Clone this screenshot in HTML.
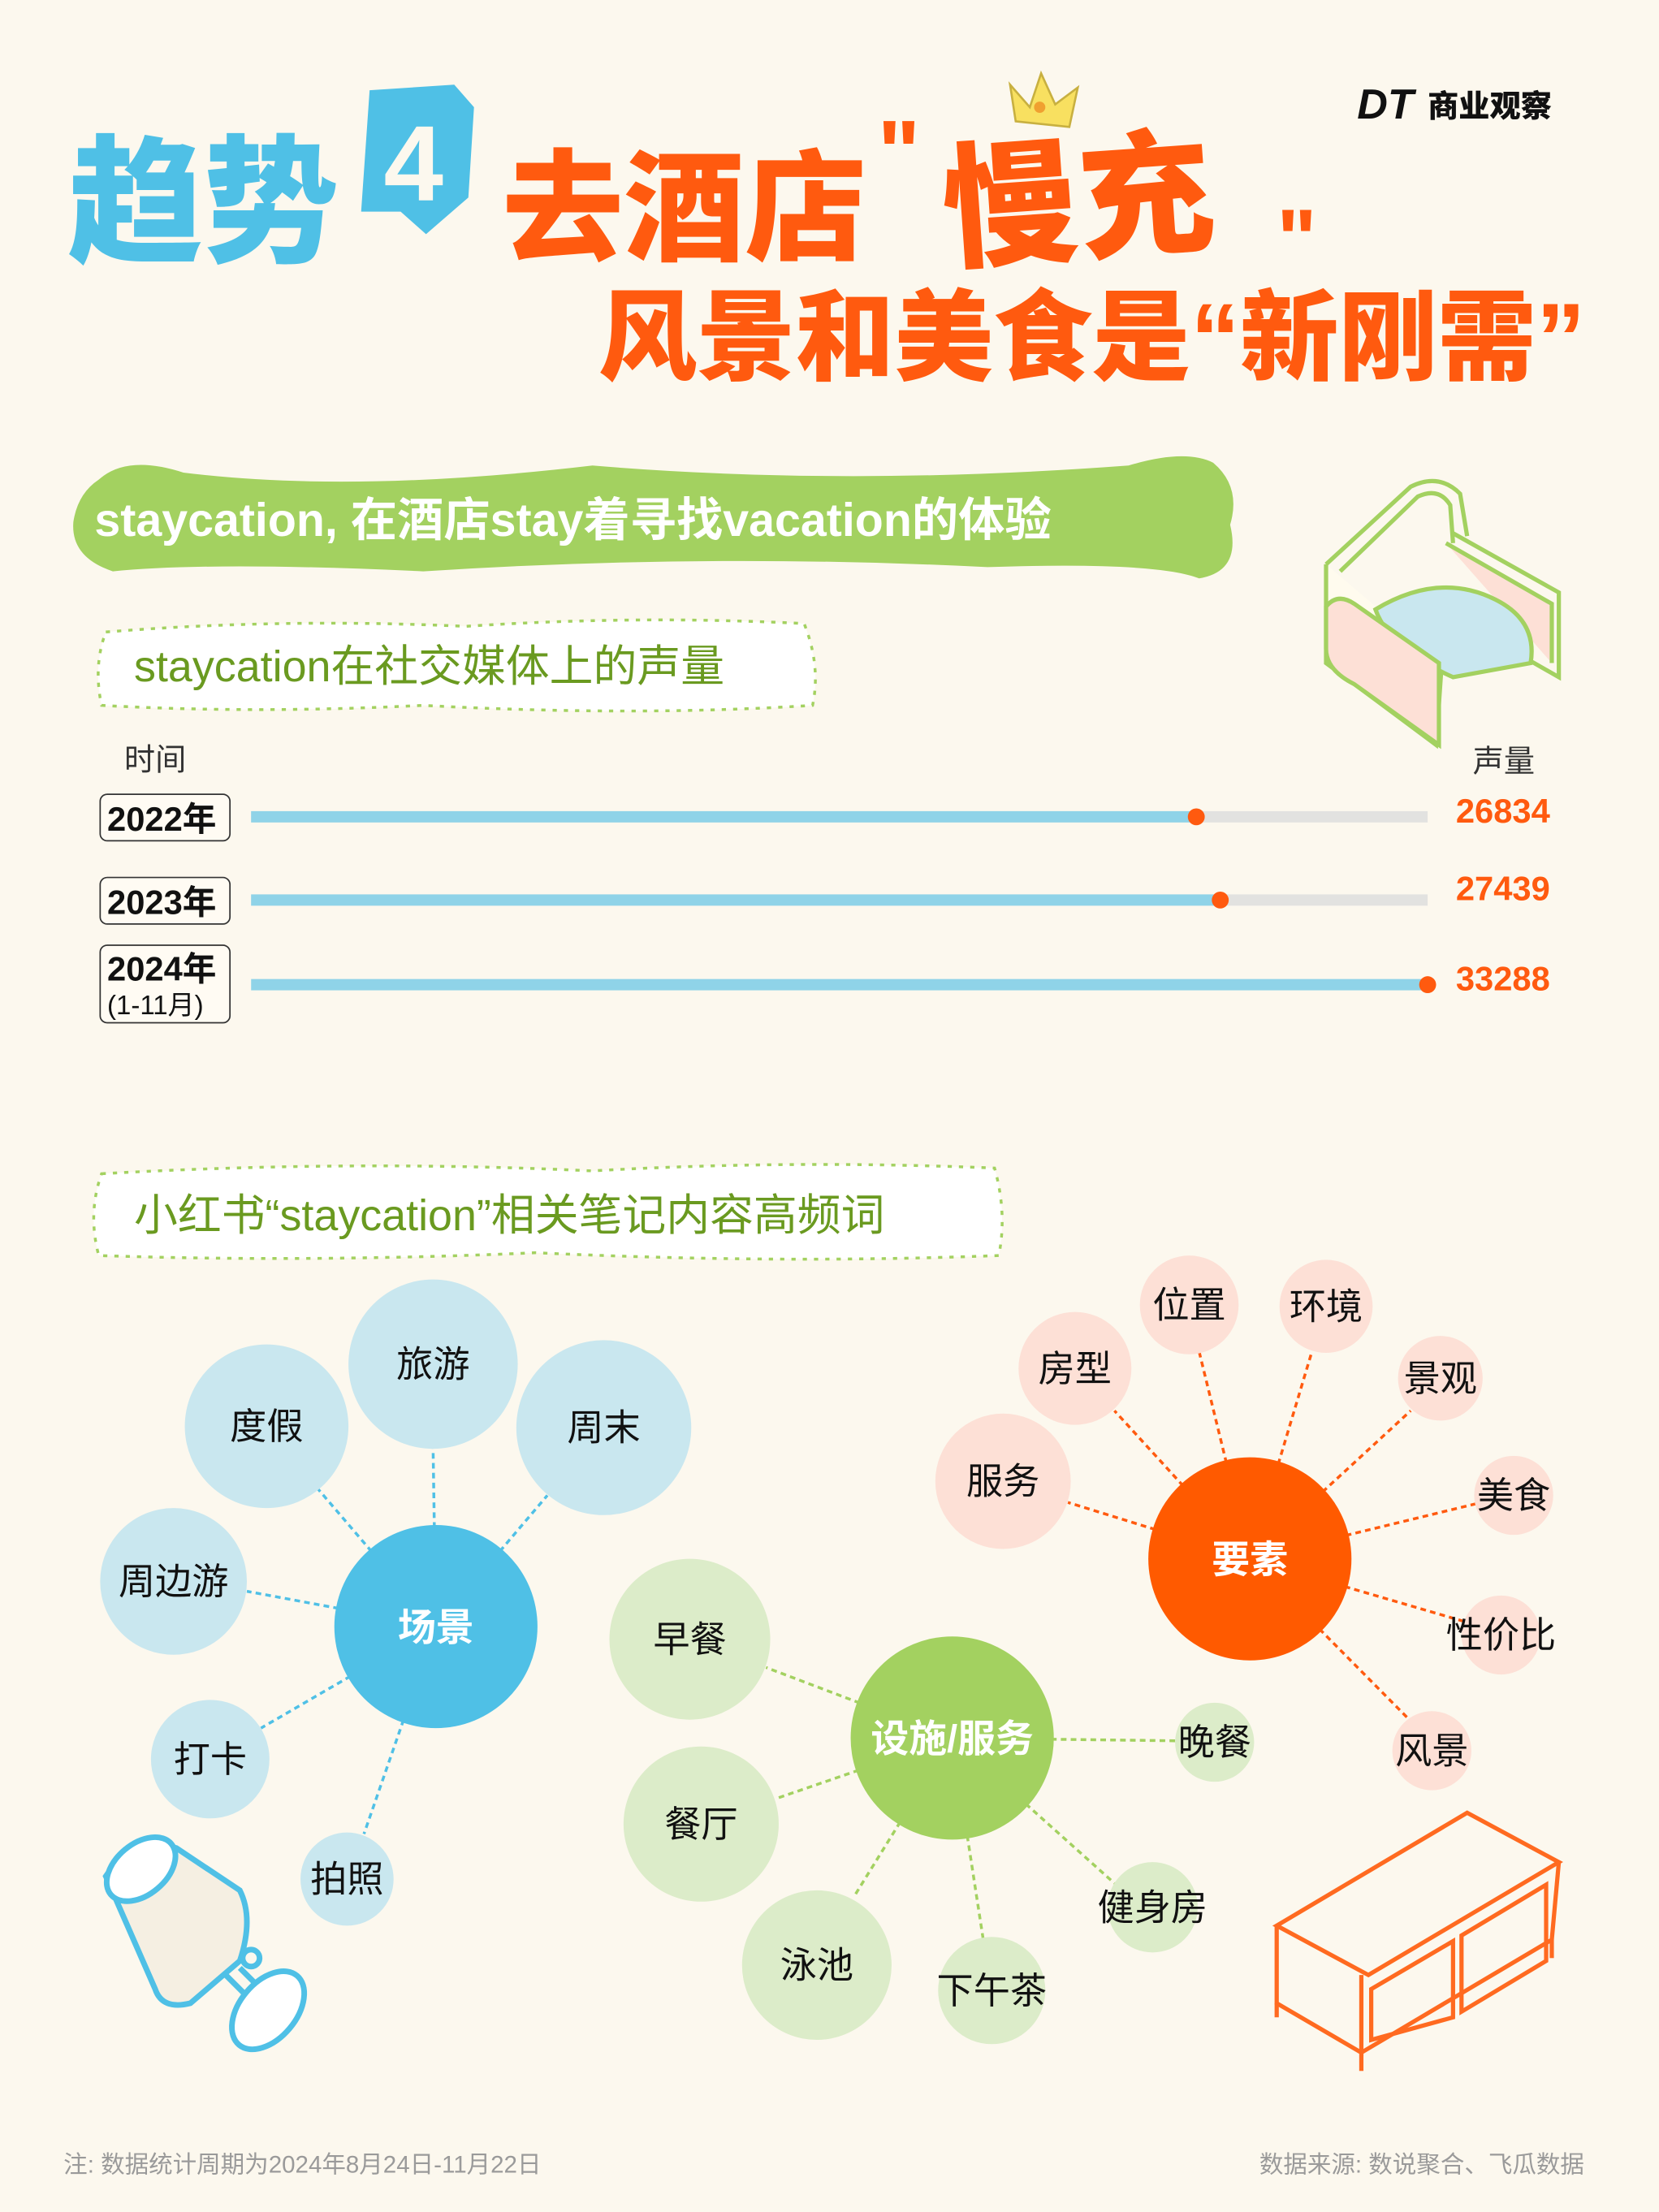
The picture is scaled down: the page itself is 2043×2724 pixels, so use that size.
<!DOCTYPE html>
<html><head><meta charset="utf-8"><style>
html,body{margin:0;padding:0;background:#fcf8ee;}
svg{display:block;}
text{font-family:"Liberation Sans","Noto Sans CJK SC",sans-serif;}
</style></head><body>
<svg width="2043" height="2724" viewBox="0 0 1176 1568" xmlns="http://www.w3.org/2000/svg">
<rect width="1176" height="1568" fill="#fcf8ee"/>
<!-- title -->
<text x="48" y="178" font-size="98" font-weight="900" fill="#4fc0e6" textLength="192" lengthAdjust="spacingAndGlyphs">趋势</text>
<path d="M262 64 L322 60 L336 76 L332 140 L302 166 L284 150 L256 150 Z" fill="#4fc0e6"/>
<text x="272" y="142" font-size="76" font-weight="900" fill="#fcf8ee">4</text>
<text x="356" y="178" font-size="86" font-weight="900" fill="#ff5a0f">去酒店</text>
<text x="622" y="130" font-size="64" font-weight="900" fill="#ff5a0f">"</text>
<text x="668" y="176" font-size="96" font-weight="900" fill="#ff5a0f" transform="rotate(-4 770 140)">慢充</text>
<text x="905" y="190" font-size="60" font-weight="900" fill="#ff5a0f">"</text>
<path d="M716 60 L730 76 L738 52 L748 74 L764 62 L758 90 L720 86 Z" fill="#f8e060" stroke="#c8b040" stroke-width="1.5"/>
<circle cx="737" cy="76" r="4" fill="#f0a030"/>
<text x="424" y="264" font-size="70" font-weight="900" fill="#ff5a0f">风景和美食是“新刚需”</text>
<text x="962" y="84" font-size="30" font-weight="900" font-style="italic" fill="#111">DT</text>
<text x="1012" y="83" font-size="22" font-weight="900" fill="#111">商业观察</text>
<!-- green banner -->
<path d="M70 340 Q90 322 130 335 Q250 350 420 330 Q600 345 800 330 Q840 318 860 328 Q880 345 872 372 Q880 405 850 410 Q820 398 700 402 Q500 392 300 405 Q150 398 80 405 Q50 395 52 370 Q55 350 70 340 Z" fill="#a3d160"/>
<text x="67" y="380" font-size="33" font-weight="bold" fill="#fff">staycation, 在酒店stay着寻找vacation的体验</text>
<!-- dashed label 1 -->
<path d="M75 448 Q200 438 330 444 Q450 436 570 442 Q582 472 576 500 Q450 508 300 500 Q180 506 72 500 Q66 472 75 448 Z" fill="#fff" stroke="#a3d160" stroke-width="2" stroke-dasharray="3 5"/>
<text x="95" y="483" font-size="31" fill="#6a9a20">staycation在社交媒体上的声量</text>
<!-- armchair -->
<g stroke="#a3d160" stroke-width="3" fill="none">
<path d="M940 400 L1000 345 Q1020 335 1035 350 L1040 380" />
<path d="M950 405 L1005 352 Q1020 345 1028 358 L1030 385" />
<path d="M940 400 L940 470 L1018 528 L1022 470" fill="#fffbee"/>
<path d="M1030 378 L1105 420 L1105 480 L1070 460"/>
<path d="M1025 385 L1100 428 L1100 470" fill="#fde0d6"/>
<path d="M975 432 Q1020 405 1060 425 Q1090 440 1085 470 L1030 480 Q985 460 975 432 Z" fill="#c9e7ef"/>
<path d="M940 430 Q948 420 960 428 L1020 470 L1020 528 L960 485 Q940 475 940 460 Z" fill="#fde0d6"/>
</g>
<!-- bars -->
<text x="88" y="546" font-size="22" fill="#333">时间</text>
<text x="1044" y="547" font-size="22" fill="#333">声量</text>
<g font-size="24" font-weight="bold" fill="#111">
<rect x="71" y="563" width="92" height="33" rx="5" fill="#fffbf3" stroke="#333" stroke-width="1"/>
<text x="76" y="589">2022年</text>
<rect x="71" y="622" width="92" height="33" rx="5" fill="#fffbf3" stroke="#333" stroke-width="1"/>
<text x="76" y="648">2023年</text>
<rect x="71" y="670" width="92" height="55" rx="5" fill="#fffbf3" stroke="#333" stroke-width="1"/>
<text x="76" y="695">2024年</text>
<text x="76" y="719" font-size="19" font-weight="normal">(1-11月)</text>
</g>
<rect x="178" y="575" width="834" height="8" fill="#e2e2e0"/>
<rect x="178" y="575" width="670" height="8" fill="#8fd3e8"/>
<rect x="178" y="634" width="834" height="8" fill="#e2e2e0"/>
<rect x="178" y="634" width="687" height="8" fill="#8fd3e8"/>
<rect x="178" y="694" width="834" height="8" fill="#8fd3e8"/>
<circle cx="848" cy="579" r="6" fill="#ff5a0f"/>
<circle cx="865" cy="638" r="6" fill="#ff5a0f"/>
<circle cx="1012" cy="698" r="6" fill="#ff5a0f"/>
<g font-size="24" font-weight="bold" fill="#ff5a0f">
<text x="1032" y="583">26834</text><text x="1032" y="638">27439</text><text x="1032" y="702">33288</text>
</g>
<!-- dashed label 2 -->
<path d="M72 832 Q250 822 420 830 Q560 822 705 828 Q714 860 708 890 Q550 896 380 888 Q220 895 70 890 Q62 860 72 832 Z" fill="#fff" stroke="#a3d160" stroke-width="2" stroke-dasharray="3 5"/>
<text x="95" y="872" font-size="31" fill="#6a9a20">小红书“staycation”相关笔记内容高频词</text>
<!-- connectors -->
<g stroke-width="2" stroke-dasharray="4 3" fill="none">
<g stroke="#4fc0e6">
<line x1="309" y1="1153" x2="307" y2="1027"/><line x1="309" y1="1153" x2="225" y2="1055"/>
<line x1="309" y1="1153" x2="388" y2="1060"/><line x1="309" y1="1153" x2="175" y2="1128"/>
<line x1="309" y1="1153" x2="185" y2="1225"/><line x1="309" y1="1153" x2="258" y2="1300"/>
</g>
<g stroke="#ff5a0f">
<line x1="886" y1="1105" x2="850" y2="958"/><line x1="886" y1="1105" x2="930" y2="958"/>
<line x1="886" y1="1105" x2="790" y2="1000"/><line x1="886" y1="1105" x2="1000" y2="1000"/>
<line x1="886" y1="1105" x2="757" y2="1065"/><line x1="886" y1="1105" x2="1046" y2="1066"/>
<line x1="886" y1="1105" x2="1040" y2="1150"/><line x1="886" y1="1105" x2="1000" y2="1220"/>
</g>
<g stroke="#a3d160">
<line x1="675" y1="1232" x2="543" y2="1182"/><line x1="675" y1="1232" x2="550" y2="1275"/>
<line x1="675" y1="1232" x2="605" y2="1345"/><line x1="675" y1="1232" x2="697" y2="1375"/>
<line x1="675" y1="1232" x2="790" y2="1335"/><line x1="675" y1="1232" x2="835" y2="1234"/>
</g>
</g>
<!-- bubbles -->
<g fill="#c9e7ef">
<circle cx="307" cy="967" r="60"/><circle cx="189" cy="1011" r="58"/><circle cx="428" cy="1012" r="62"/>
<circle cx="123" cy="1121" r="52"/><circle cx="149" cy="1247" r="42"/><circle cx="246" cy="1332" r="33"/>
</g>
<circle cx="309" cy="1153" r="72" fill="#4fc0e6"/>
<g fill="#fde0d6">
<circle cx="843" cy="925" r="35"/><circle cx="940" cy="926" r="33"/><circle cx="762" cy="970" r="40"/>
<circle cx="1021" cy="977" r="30"/><circle cx="711" cy="1050" r="48"/><circle cx="1073" cy="1060" r="28"/>
<circle cx="1064" cy="1159" r="28"/><circle cx="1015" cy="1241" r="28"/>
</g>
<circle cx="886" cy="1105" r="72" fill="#ff5a00"/>
<g fill="#dcecc9">
<circle cx="489" cy="1162" r="57"/><circle cx="497" cy="1293" r="55"/><circle cx="579" cy="1393" r="53"/>
<circle cx="703" cy="1411" r="38"/><circle cx="817" cy="1352" r="32"/><circle cx="861" cy="1235" r="28"/>
</g>
<circle cx="675" cy="1232" r="72" fill="#a3d160"/>
<g font-size="26" fill="#111" text-anchor="middle">
<text x="307" y="976">旅游</text><text x="189" y="1020">度假</text><text x="428" y="1021">周末</text>
<text x="123" y="1130">周边游</text><text x="149" y="1256">打卡</text><text x="246" y="1341">拍照</text>
<text x="843" y="934">位置</text><text x="940" y="935">环境</text><text x="762" y="979">房型</text>
<text x="1021" y="986">景观</text><text x="711" y="1059">服务</text><text x="1073" y="1069">美食</text>
<text x="1064" y="1168">性价比</text><text x="1015" y="1250">风景</text>
<text x="489" y="1171">早餐</text><text x="497" y="1302">餐厅</text><text x="579" y="1402">泳池</text>
<text x="703" y="1420">下午茶</text><text x="817" y="1361">健身房</text><text x="861" y="1244">晚餐</text>
</g>
<g font-size="27" font-weight="bold" fill="#fff" text-anchor="middle">
<text x="309" y="1163">场景</text><text x="886" y="1115">要素</text><text x="675" y="1242">设施/服务</text>
</g>
<!-- lamp -->
<g stroke="#4fc0e6" stroke-width="4" fill="none">
<path d="M75 1330 Q95 1300 125 1310 L170 1340 Q180 1360 170 1390 L135 1420 Q115 1425 110 1410 Z" fill="#f5efe2"/>
<ellipse cx="100" cy="1325" rx="28" ry="18" transform="rotate(-40 100 1325)" fill="#fff"/>
<path d="M160 1400 L185 1425 M170 1395 L195 1420"/>
<circle cx="178" cy="1388" r="6"/>
<ellipse cx="190" cy="1425" rx="32" ry="20" transform="rotate(-50 190 1425)" fill="#fff"/>
</g>
<!-- cabinet -->
<g stroke="#ff6a20" stroke-width="3" fill="none">
<path d="M905 1365 L1040 1285 L1105 1320 L970 1400 Z"/>
<path d="M905 1365 L905 1420 L965 1455 L965 1400"/>
<path d="M965 1455 L1100 1375 L1105 1320"/>
<path d="M972 1410 L1030 1376 L1030 1430 L972 1446 Z M1036 1372 L1096 1336 L1096 1390 L1036 1426 Z"/>
<line x1="965" y1="1455" x2="965" y2="1468"/><line x1="905" y1="1420" x2="905" y2="1430"/><line x1="1100" y1="1375" x2="1100" y2="1388"/>
</g>
<text x="45" y="1540" font-size="17" fill="#9a9a9a">注: 数据统计周期为2024年8月24日-11月22日</text>
<text x="1123" y="1540" font-size="17" fill="#9a9a9a" text-anchor="end">数据来源: 数说聚合、飞瓜数据</text>
</svg>
</body></html>
